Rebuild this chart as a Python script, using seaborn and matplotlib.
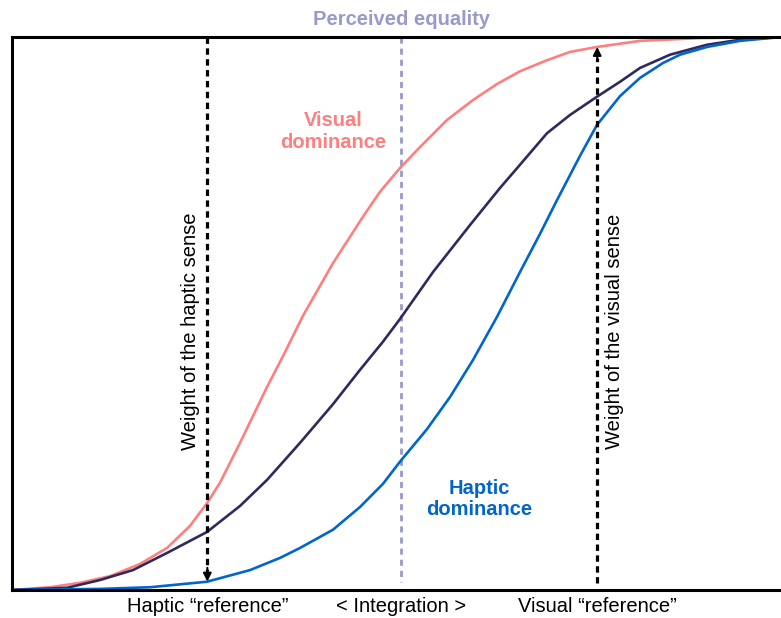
import numpy as np
import pandas as pd
import matplotlib
matplotlib.use("Agg")
import matplotlib.pyplot as plt
import seaborn as sns

# ------------------------------------------------------------
# values (x: 0..100 stimulus axis, y: 0..1)
# ------------------------------------------------------------
visual_x = [0, 4.94, 8.84, 12.74, 16.64, 20.16, 23.15, 25.36, 27.05, 29.65,
            33.16, 35.5, 37.84, 41.74, 45.64, 47.85, 50.45, 53.06, 56.57, 59.95,
            63.07, 66.06, 69.57, 72.56, 76.07, 81.66, 89.47, 100]
visual_y = [0, 0.005, 0.013, 0.025, 0.047, 0.076, 0.116, 0.157, 0.194, 0.266,
            0.367, 0.430, 0.496, 0.591, 0.675, 0.720, 0.763, 0.801, 0.850, 0.886,
            0.915, 0.938, 0.958, 0.973, 0.982, 0.993, 0.998, 1.0]

integ_x = [0, 7.15, 11.44, 15.73, 20.16, 25.36, 29.65, 33.16, 37.45, 41.74,
           45.25, 48.24, 50.45, 54.75, 59.56, 63.46, 66.06, 69.57, 72.56, 76.07,
           79.06, 81.66, 85.57, 90.38, 94.67, 100]
integ_y = [0, 0.004, 0.018, 0.036, 0.067, 0.105, 0.152, 0.199, 0.266, 0.336,
           0.398, 0.449, 0.490, 0.575, 0.660, 0.727, 0.769, 0.826, 0.859, 0.892,
           0.919, 0.944, 0.968, 0.986, 0.995, 1.0]

haptic_x = [0, 11.44, 17.95, 25.36, 30.95, 34.85, 37.45, 41.74, 45.25, 48.24,
            50.45, 53.97, 56.96, 59.95, 63.07, 66.06, 68.66, 70.87, 73.86, 76.07,
            79.06, 81.66, 84.66, 86.87, 90.38, 94.67, 100]
haptic_y = [0, 0.002, 0.005, 0.015, 0.036, 0.058, 0.076, 0.109, 0.150, 0.192,
            0.232, 0.291, 0.349, 0.416, 0.494, 0.575, 0.644, 0.705, 0.785, 0.841,
            0.893, 0.926, 0.953, 0.968, 0.982, 0.993, 1.0]

series_names = ["Visual dominance", "Integration", "Haptic dominance"]
series_colors = ["#FF7F7F", "#2E2A5E", "#0066CC"]

haptic_ref = 25.4
equality = 50.6
visual_ref = 76.1

bottom_labels = ["Haptic \u201creference\u201d", "< Integration >", "Visual \u201creference\u201d"]

df = pd.concat([
    pd.DataFrame({"x": visual_x, "y": visual_y, "curve": series_names[0]}),
    pd.DataFrame({"x": integ_x, "y": integ_y, "curve": series_names[1]}),
    pd.DataFrame({"x": haptic_x, "y": haptic_y, "curve": series_names[2]}),
], ignore_index=True)

# ------------------------------------------------------------
sns.set_theme(style="white")
plt.rcParams["font.family"] = ["Liberation Sans", "DejaVu Sans"]

fig = plt.figure(figsize=(7.81, 6.18), dpi=100)
ax = fig.add_axes([12 / 781, 28 / 618, 769 / 781, 553 / 618])

sns.lineplot(data=df, x="x", y="y", hue="curve", palette=series_colors,
             hue_order=series_names, linewidth=1.9, legend=False, sort=True,
             ax=ax, solid_joinstyle="round", solid_capstyle="round")

ax.set_xlim(0, 100)
ax.set_ylim(0, 1)
ax.set_xticks([])
ax.set_yticks([])
ax.set_xlabel("")
ax.set_ylabel("")
for side in ["left", "top", "bottom"]:
    ax.spines[side].set_color("black")
    ax.spines[side].set_linewidth(2.2)
ax.spines["right"].set_visible(False)

# where the arrows meet the curves
hap_at_ref = np.interp(haptic_ref, haptic_x, haptic_y)
vis_at_ref = np.interp(visual_ref, visual_x, visual_y)

# dashed guide lines with arrow heads
ax.plot([haptic_ref, haptic_ref], [1.0, hap_at_ref + 0.02], color="black",
        linewidth=2.3, dashes=(2, 1.4), zorder=3)
ax.annotate("", xy=(haptic_ref, hap_at_ref), xytext=(haptic_ref, hap_at_ref + 0.025),
            arrowprops=dict(arrowstyle="-|>", color="black", lw=1.5,
                            mutation_scale=12, shrinkA=0, shrinkB=0), zorder=4)

ax.plot([visual_ref, visual_ref], [0.013, vis_at_ref - 0.02], color="black",
        linewidth=2.3, dashes=(2, 1.4), zorder=3)
ax.annotate("", xy=(visual_ref, vis_at_ref), xytext=(visual_ref, vis_at_ref - 0.025),
            arrowprops=dict(arrowstyle="-|>", color="black", lw=1.5,
                            mutation_scale=12, shrinkA=0, shrinkB=0), zorder=4)

ax.plot([equality, equality], [1.0, 0.015], color="#9999CC",
        linewidth=2.0, dashes=(2.2, 1.8), zorder=1)

# texts
ax.text(equality, 1.031, "Perceived equality", color="#9999CC", fontsize=14.5,
        fontweight="bold", ha="center", va="center", clip_on=False)
ax.text(41.8, 0.829, "Visual\ndominance", color="#FF7F7F", fontsize=14.5,
        fontweight="bold", ha="center", va="center", linespacing=1.15)
ax.text(60.8, 0.165, "Haptic\ndominance", color="#0066CC", fontsize=14.5,
        fontweight="bold", ha="center", va="center", linespacing=1.15)

ax.text(haptic_ref - 2.2, 0.468, "Weight of the haptic sense", rotation=90,
        fontsize=14.5, ha="center", va="center", color="black")
ax.text(visual_ref + 2.2, 0.468, "Weight of the visual sense", rotation=90,
        fontsize=14.5, ha="center", va="center", color="black")

for xpos, lab in zip([haptic_ref, equality, visual_ref], bottom_labels):
    ax.text(xpos, -0.03, lab, fontsize=14.5, ha="center", va="center",
            color="black", clip_on=False)

fig.savefig("out.png", dpi=100)
